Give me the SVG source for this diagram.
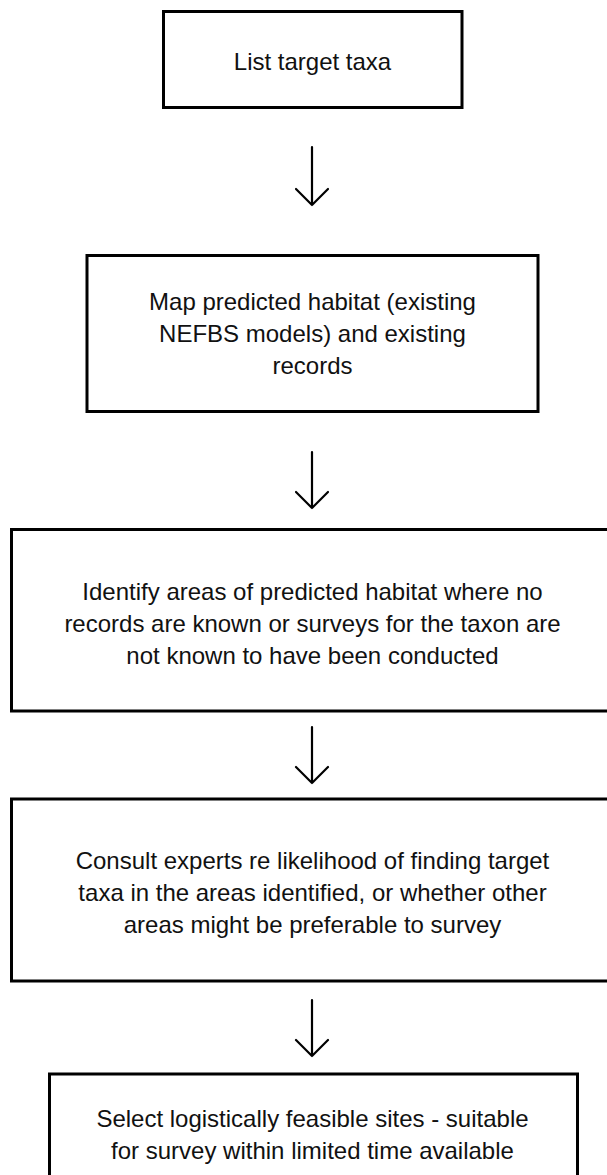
<svg xmlns="http://www.w3.org/2000/svg" width="607" height="1175" viewBox="0 0 607 1175">
<style>
.box{fill:#fff;stroke:#000;stroke-width:3}
.t{font-family:"Liberation Sans",Arial,sans-serif;font-size:24px;fill:#111;text-anchor:middle}
.arr{fill:none;stroke:#000;stroke-width:2.2;stroke-linecap:round;stroke-linejoin:round}
</style>
<rect width="607" height="1175" fill="#fff"/>
<g id="connectors">
<path class="arr" d="M312,147 V205 M296,189 L312,205 L328,189"/>
<path class="arr" d="M312,452 V508 M296,492 L312,508 L328,492"/>
<path class="arr" d="M312,727 V783 M296,767 L312,783 L328,767"/>
<path class="arr" d="M312,1000 V1056 M296,1040 L312,1056 L328,1040"/>
</g>
<g id="n1">
<rect class="box" x="163.5" y="11.5" width="298.5" height="96"/>
<text class="t" x="312.5" y="70">List target taxa</text>
</g>
<g id="n2">
<rect class="box" x="87" y="255.5" width="451" height="156"/>
<text class="t" x="312.5" y="310">Map predicted habitat (existing</text>
<text class="t" x="312.5" y="342">NEFBS models) and existing</text>
<text class="t" x="312.5" y="374">records</text>
</g>
<g id="n3">
<rect class="box" x="11.5" y="529.5" width="610" height="181.5"/>
<text class="t" x="312.5" y="600">Identify areas of predicted habitat where no</text>
<text class="t" x="312.5" y="632">records are known or surveys for the taxon are</text>
<text class="t" x="312.5" y="664">not known to have been conducted</text>
</g>
<g id="n4">
<rect class="box" x="11.5" y="799" width="610" height="182"/>
<text class="t" x="312.5" y="869">Consult experts re likelihood of finding target</text>
<text class="t" x="312.5" y="901">taxa in the areas identified, or whether other</text>
<text class="t" x="312.5" y="933">areas might be preferable to survey</text>
</g>
<g id="n5">
<rect class="box" x="49.5" y="1074" width="528" height="120"/>
<text class="t" x="312.5" y="1127">Select logistically feasible sites - suitable</text>
<text class="t" x="312.5" y="1159">for survey within limited time available</text>
</g>
</svg>
